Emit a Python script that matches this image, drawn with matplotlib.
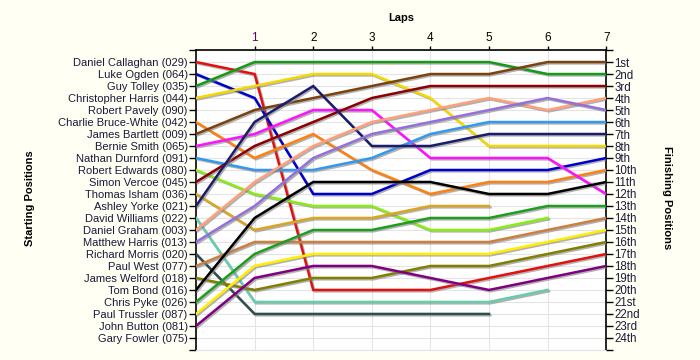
import matplotlib
matplotlib.use("Agg")
import matplotlib.pyplot as plt
import matplotlib.patheffects as pe
import numpy as np

plt.rcParams['font.family'] = ['Liberation Sans', 'DejaVu Sans']

laps = [0, 1, 2, 3, 4, 5, 6, 7]
lap_labels = ['1', '2', '3', '4', '5', '6', '7']

starters = ["Daniel Callaghan (029)", "Luke Ogden (064)", "Guy Tolley (035)",
            "Christopher Harris (044)", "Robert Pavely (090)", "Charlie Bruce-White (042)",
            "James Bartlett (009)", "Bernie Smith (065)", "Nathan Durnford (091)",
            "Robert Edwards (080)", "Simon Vercoe (045)", "Thomas Isham (036)",
            "Ashley Yorke (021)", "David Williams (022)", "Daniel Graham (003)",
            "Matthew Harris (013)", "Richard Morris (020)", "Paul West (077)",
            "James Welford (018)", "Tom Bond (016)", "Chris Pyke (026)",
            "Paul Trussler (087)", "John Button (081)", "Gary Fowler (075)"]

finish_labels = ["1st", "2nd", "3rd", "4th", "5th", "6th", "7th", "8th", "9th", "10th",
                 "11th", "12th", "13th", "14th", "15th", "16th", "17th", "18th", "19th",
                 "20th", "21st", "22nd", "23rd", "24th"]

# positions per lap (lap 0 = start)
callaghan = [1, 2, 20, 20, 20, 19, 18, 17]
ogden = [2, 4, 12, 12, 10, 10, 10, 9]
tolley = [3, 1, 1, 1, 1, 1, 2, 2]
c_harris = [4, 3, 2, 2, 4, 8, 8, 8]
bruce_white = [6, 9, 7, 10, 12, 11, 11, 10]
bartlett = [7, 5, 4, 3, 2, 2, 1, 1]
smith = [8, 7, 5, 5, 9, 9, 9, 12]
durnford = [9, 10, 10, 9, 7, 6, 6, 6]
edwards = [10, 12, 13, 13, 15, 15, 14]
vercoe = [11, 8, 6, 4, 3, 3, 3, 3]
isham = [12, 15, 14, 14, 13, 13]
yorke = [13, 6, 3, 8, 8, 7, 7, 7]
williams = [14, 21, 21, 21, 21, 21, 20]
graham = [15, 11, 8, 6, 5, 4, 5, 4]
m_harris = [16, 13, 9, 7, 6, 5, 4, 5]
morris = [17, 22, 22, 22, 22, 22]
west = [18, 16, 16, 16, 16, 16, 15, 14]
welford = [19, 20, 19, 19, 18, 18, 17, 16]
bond = [20, 14, 11, 11, 11, 12, 12, 11]
pyke = [21, 17, 15, 15, 14, 14, 13, 13]
trussler = [22, 18, 17, 17, 17, 17, 16, 15]
button = [23, 19, 18, 18, 19, 20, 19, 18]

series = [callaghan, ogden, tolley, c_harris, bruce_white, bartlett, smith, durnford,
          edwards, vercoe, isham, yorke, williams, graham, m_harris, morris, west,
          welford, bond, pyke, trussler, button]
colors = ['#e41010', '#0000cc', '#149a14', '#f5d800', '#ff8010', '#7b4210', '#ff10ff',
          '#3399ee', '#88ee11', '#8b0000', '#daa520', '#1c1c6c', '#66cdaa', '#ffa07a',
          '#9370db', '#2f4f4f', '#cd7f3f', '#808000', '#000000', '#1e9e1e', '#ffee00',
          '#800080']

fig = plt.figure(figsize=(7, 3.6), dpi=100, facecolor='#fffff4')
ax = fig.add_axes([0.28, 0.028, 0.586, 0.833])
ax.set_facecolor('white')

for s, c in zip(series, colors):
    ax.plot(laps[:len(s)], s, color=c, lw=1.8, solid_joinstyle='miter',
            path_effects=[pe.SimpleLineShadow(offset=(1, -1), shadow_color='#808080', alpha=0.6),
                          pe.Normal()], zorder=3)

ax.set_xlim(0, 7)
ax.set_ylim(25, 0)
ax.set_xticks(range(1, 8))
ax.set_xticklabels(lap_labels)
ax.xaxis.tick_top()
ax.tick_params(axis='x', length=3, width=1, pad=1, labelsize=8.5, colors='black')
ax.get_xticklabels()[0].set_color('#660066')

ax.set_yticks(range(0, 26))
ax.set_yticklabels([''] + starters + [''])
ax.tick_params(axis='y', length=5, width=1, pad=1, labelsize=8.0, labelcolor='#1a1a3a')
ax.yaxis.set_ticks_position('left')

ax.grid(True, color='#e4e4e4', lw=0.8, zorder=0)
for side in ['left', 'right', 'top']:
    ax.spines[side].set_color('black')
    ax.spines[side].set_linewidth(1.2)
ax.spines['bottom'].set_color('#e4e4e4')

ax2 = ax.twinx()
ax2.set_ylim(25, 0)
ax2.set_yticks(range(0, 26))
ax2.set_yticklabels([''] + finish_labels + [''])
ax2.tick_params(axis='y', length=5, width=1, pad=1, labelsize=8.3, labelcolor='#1a1a3a')
for side in ['left', 'right', 'top', 'bottom']:
    ax2.spines[side].set_visible(False)

fig.text(0.573, 0.95, 'Laps', ha='center', va='center', fontsize=8, fontweight='bold')
fig.text(0.043, 0.45, 'Starting Positions', rotation=90, ha='center', va='center',
         fontsize=8, fontweight='bold')
fig.text(0.953, 0.45, 'Finishing Positions', rotation=270, ha='center', va='center',
         fontsize=8, fontweight='bold')

fig.savefig('out.png', dpi=100, facecolor=fig.get_facecolor())
